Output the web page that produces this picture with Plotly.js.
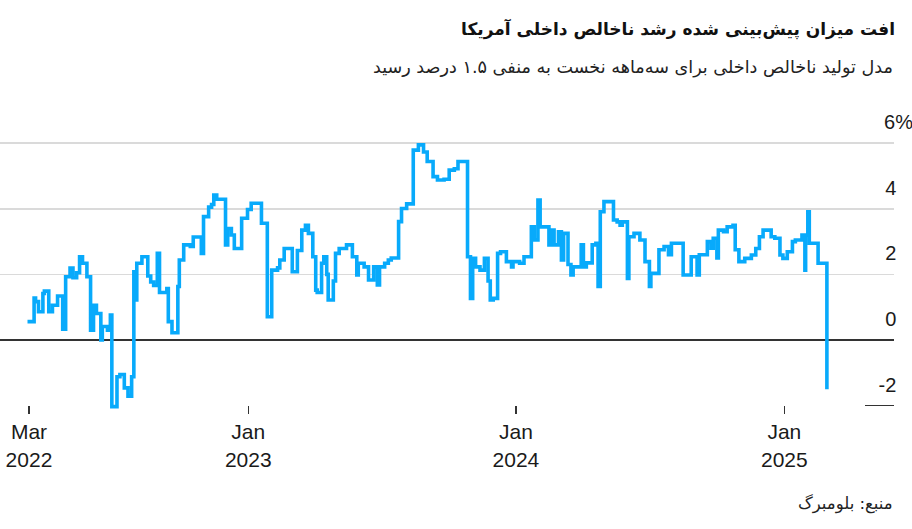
<!DOCTYPE html>
<html>
<head>
<meta charset="utf-8">
<script src="https://cdn.plot.ly/plotly-3.0.1.min.js"></script>
<style>
  html, body { margin: 0; padding: 0; background: #ffffff; }
  #chart { width: 912px; height: 529px; }
</style>
</head>
<body>
<div id="chart"></div>
<script>
// Atlanta-Fed-style GDP nowcast, % (step series)
const dates = [
  '2022-03-06','2022-03-15','2022-03-17','2022-03-21','2022-03-27','2022-03-29','2022-04-04','2022-04-09','2022-04-16','2022-04-23',
  '2022-04-27','2022-05-03','2022-05-07','2022-05-12','2022-05-16','2022-05-20','2022-05-26','2022-05-31','2022-06-04','2022-06-08',
  '2022-06-14','2022-06-16','2022-06-23','2022-06-27','2022-06-29','2022-07-06','2022-07-10','2022-07-16','2022-07-21','2022-07-26',
  '2022-07-29','2022-07-30','2022-08-02','2022-08-09','2022-08-17','2022-08-21','2022-08-25','2022-08-30','2022-09-02','2022-09-12',
  '2022-09-14','2022-09-19','2022-09-27','2022-09-29','2022-10-05','2022-10-14','2022-10-18','2022-10-29','2022-11-01','2022-11-08',
  '2022-11-12','2022-11-15','2022-11-19','2022-12-01','2022-12-04','2022-12-09','2022-12-13','2022-12-23','2022-12-31','2023-01-05',
  '2023-01-19','2023-01-27','2023-02-02','2023-02-10','2023-02-13','2023-02-19','2023-03-02','2023-03-09','2023-03-15','2023-03-20',
  '2023-03-24','2023-03-30','2023-04-03','2023-04-05','2023-04-11','2023-04-14','2023-04-18','2023-04-20','2023-04-27','2023-04-30',
  '2023-05-05','2023-05-15','2023-05-23','2023-05-29','2023-05-31','2023-06-08','2023-06-14','2023-06-21','2023-06-26','2023-06-29',
  '2023-07-06','2023-07-11','2023-07-15','2023-07-25','2023-07-29','2023-08-05','2023-08-14','2023-08-21','2023-08-28','2023-09-02',
  '2023-09-10','2023-09-16','2023-09-25','2023-10-02','2023-10-09','2023-10-14','2023-10-27','2023-10-31','2023-11-03','2023-11-07',
  '2023-11-13','2023-11-19','2023-11-24','2023-11-27','2023-12-01','2023-12-07','2023-12-11','2023-12-19','2023-12-26','2023-12-28',
  '2024-01-06','2024-01-12','2024-01-22','2024-01-26','2024-01-31','2024-02-03','2024-02-15','2024-02-19','2024-02-22','2024-02-28',
  '2024-03-03','2024-03-06','2024-03-12','2024-03-16','2024-03-19','2024-03-30','2024-04-02','2024-04-06','2024-04-14','2024-04-19',
  '2024-04-22','2024-04-25','2024-04-30','2024-05-13','2024-05-18','2024-05-22','2024-05-25','2024-06-01','2024-06-03','2024-06-10',
  '2024-06-18','2024-06-25','2024-07-01','2024-07-03','2024-07-14','2024-07-21','2024-07-27','2024-07-31','2024-08-16','2024-08-27',
  '2024-09-04','2024-09-07','2024-09-18','2024-09-23','2024-09-26','2024-10-01','2024-10-03','2024-10-10','2024-10-15','2024-10-23',
  '2024-10-26','2024-10-31','2024-11-08','2024-11-17','2024-11-23','2024-11-28','2024-12-03','2024-12-14','2024-12-19','2024-12-26',
  '2024-12-30','2025-01-05','2025-01-12','2025-01-16','2025-01-25','2025-01-29','2025-01-30','2025-02-02','2025-02-04','2025-02-16',
  '2025-02-28'
];
const gdpNow = [
  0.56, 1.28, 1.17, 0.86, 1.42, 1.49, 0.86, 1.06, 1.34, 0.33,
  1.93, 2.19, 1.90, 2.05, 2.54, 2.34, 1.93, 0.30, 1.06, 0.81,
  0.00, 0.41, 0.30, 0.76, -2.03, -1.12, -1.05, -1.46, -1.71, -1.12,
  2.08, 1.22, 2.34, 2.54, 1.95, 1.77, 1.66, 2.64, 1.45, 1.57,
  0.56, 0.22, 1.63, 2.44, 2.90, 2.85, 3.14, 2.64, 3.76, 4.05,
  4.13, 4.42, 4.29, 2.90, 3.40, 3.20, 2.79, 3.71, 3.98, 4.17,
  3.56, 0.71, 2.13, 2.20, 2.44, 2.79, 2.08, 2.73, 3.35, 3.50,
  3.25, 2.54, 1.52, 1.45, 2.34, 2.54, 2.00, 1.22, 1.80, 2.64,
  2.79, 2.90, 2.54, 1.98, 2.34, 2.23, 1.83, 2.23, 1.68, 2.23,
  2.34, 2.44, 2.50, 3.61, 4.01, 4.15, 5.79, 5.95, 5.73, 5.44,
  4.98, 4.88, 4.90, 5.18, 5.22, 5.44, 2.54, 1.27, 2.49, 2.23,
  2.13, 2.49, 1.80, 1.22, 1.27, 2.64, 2.69, 2.39, 2.23, 2.39,
  2.34, 2.54, 3.45, 3.05, 4.27, 3.45, 2.90, 3.35, 2.90, 3.30,
  2.44, 3.25, 2.30, 1.98, 2.23, 2.90, 2.23, 2.35, 2.90, 2.95,
  1.63, 3.91, 4.22, 3.66, 3.60, 3.50, 3.60, 1.88, 3.15, 3.25,
  3.05, 2.39, 1.63, 2.03, 2.75, 2.85, 2.60, 2.95, 1.98, 2.54,
  1.98, 2.60, 3.00, 2.80, 3.10, 2.50, 3.35, 3.30, 3.45, 3.50,
  2.75, 2.39, 2.49, 2.59, 2.79, 3.15, 3.35, 3.15, 3.10, 2.59,
  2.49, 2.69, 3.00, 3.05, 3.20, 2.13, 3.20, 3.91, 2.95, 2.34,
  -1.50
];
const xTickVals = ['2022-03-08', '2023-01-01', '2024-01-01', '2025-01-01'];
const xTickText = ['Mar<br>2022', 'Jan<br>2023', 'Jan<br>2024', 'Jan<br>2025'];
const yTickVals = [-2, 0, 2, 4, 6];
const NB = '\u00a0\u00a0\u00a0';
const yTickText = ['-2' + NB, '0' + NB, '2' + NB, '4' + NB, '6%'];
const gridVals = [0, 2, 4, 6];

const titleText = 'افت میزان پیش‌بینی شده رشد ناخالص داخلی آمریکا';
const subtitleText = 'مدل تولید ناخالص داخلی برای سه‌ماهه نخست به منفی ۱.۵ درصد رسید';
const sourceText = 'منبع: بلومبرگ';

const yRange = [-2.195, 7.317];
const numFont = { family: 'Liberation Sans, Arial, sans-serif', size: 20, color: '#1a1a1a' };
const faFont = 'DejaVu Sans, sans-serif';

const trace = {
  x: dates, y: gdpNow, type: 'scatter', mode: 'lines',
  line: { shape: 'hv', color: '#08AAFB', width: 3.6 },
  hoverinfo: 'x+y'
};

const layout = {
  width: 912, height: 529,
  margin: { l: 0, r: 18, t: 100, b: 117 },
  paper_bgcolor: '#ffffff', plot_bgcolor: '#ffffff',
  showlegend: false,
  title: {
    text: '<b>' + titleText + '</b>',
    font: { family: faFont, size: 17, color: '#111' },
    xref: 'container', x: 895 / 912, xanchor: 'right',
    yref: 'container', y: 1 - 29 / 529, yanchor: 'middle'
  },
  xaxis: {
    type: 'date',
    range: ['2022-01-27 12:00', '2025-05-30 12:00'],
    anchor: 'free', position: 7 / 312,
    tickvals: xTickVals, ticktext: xTickText,
    ticks: 'outside', ticklen: 8, tickwidth: 1.5, tickcolor: '#333',
    showgrid: false, zeroline: false, showline: false,
    tickfont: { family: numFont.family, size: 21, color: '#1a1a1a' }
  },
  yaxis: {
    range: yRange, side: 'right',
    tickvals: yTickVals, ticktext: yTickText,
    ticklabelposition: 'inside top',
    ticklabelstandoff: -22, ticklabelshift: -7,
    ticks: '', showgrid: false, zeroline: false, showline: false,
    tickfont: numFont
  },
  yaxis2: {
    range: yRange, overlaying: 'y', side: 'right',
    tickvals: gridVals, showticklabels: false, ticks: '',
    showgrid: true, gridcolor: '#dadada', gridwidth: 1.5,
    zeroline: true, zerolinecolor: '#333', zerolinewidth: 1.5, showline: false
  },
  yaxis3: {
    range: yRange, overlaying: 'y', side: 'right',
    tickvals: [-2], showticklabels: false,
    ticks: 'inside', ticklen: 29, tickwidth: 1.5, tickcolor: '#333',
    showgrid: false, zeroline: false, showline: false
  },
  annotations: [
    {
      text: subtitleText, xref: 'paper', yref: 'paper',
      x: 895 / 894, y: (412 - 68) / 312, xanchor: 'right', yanchor: 'middle',
      showarrow: false, font: { family: faFont, size: 17.6, color: '#222' }
    },
    {
      text: sourceText, xref: 'paper', yref: 'paper',
      x: 895 / 894, y: (412 - 503) / 312, xanchor: 'right', yanchor: 'middle',
      showarrow: false, font: { family: faFont, size: 16.5, color: '#222' }
    }
  ]
};

const ghost2 = { x: [dates[0]], y: [0], yaxis: 'y2', type: 'scatter', mode: 'none', hoverinfo: 'skip' };
const ghost3 = { x: [dates[0]], y: [0], yaxis: 'y3', type: 'scatter', mode: 'none', hoverinfo: 'skip' };

Plotly.newPlot('chart', [ghost2, ghost3, trace], layout, { displayModeBar: false, staticPlot: true });
</script>
</body>
</html>
